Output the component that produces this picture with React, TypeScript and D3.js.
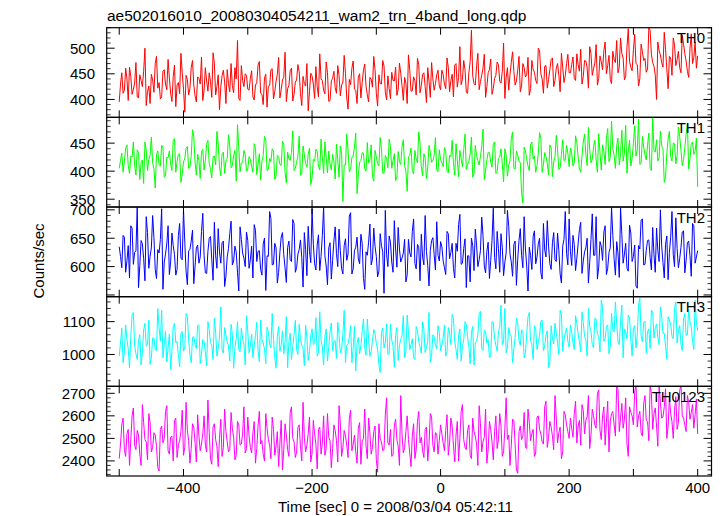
import React from "react";
import * as d3 from "d3";

// ---- data: two interleaved 4-second sample sets (A at -500+4k, B at -498+4k) ----
const T_START = -500;
const T_STEP = 4;

const TH0_A = [
  395, 452, 418, 440, 463, 410, 432, 405, 448, 425, 500, 415, 392, 438, 470, 422, 401, 455, 430, 478, 412, 445, 386, 433, 490, 420, 447, 409, 462, 428, 395, 441, 483, 418, 436, 452, 404, 471, 425, 380, 446, 434, 458, 415, 427, 462, 515, 398, 437, 450, 420,
  441, 405, 428, 467, 412, 390, 449, 426, 458, 401, 435, 482, 419, 443, 396, 427, 461, 410, 438, 454, 388, 431, 470, 415, 446, 402, 425, 489, 437, 411, 452, 398, 441, 423, 466, 407, 434, 450, 381, 429, 475, 418, 444, 403, 457, 426, 395, 439, 484, 412, 448, 430, 465, 399, 421, 453, 436, 408, 471, 427, 443, 392, 458, 417, 437, 480, 413, 449, 425, 462, 404, 440, 431, 457, 419,
  448, 421, 462, 437, 405, 470, 443, 429, 476, 414, 452, 535, 431, 466, 419, 447, 488, 425, 458, 410, 441, 473, 436, 455, 402, 462, 449, 493, 428, 457, 415, 470, 444, 482, 421, 459, 437, 500, 450, 412, 466, 439, 478, 425, 461, 447, 490, 433, 470, 452,
  468, 441, 489, 455, 430, 476, 462, 503, 447, 471, 428, 485, 458, 512, 466, 439, 494, 472, 452, 520, 481, 445, 538, 463, 497, 470, 426, 508, 476, 453, 540, 488, 465, 400, 495, 472, 531, 459, 484, 447, 506, 478, 462, 525, 490, 455, 499, 470, 512, 485,
];
const TH0_B = [
  430, 412, 461, 398, 445, 420, 472, 403, 437, 455, 388, 426, 449, 414, 484, 433, 405, 458, 419, 442, 396, 467, 428, 411, 452, 375, 439, 421, 476, 407, 444, 430, 398, 462, 416, 435, 491, 409, 448, 424, 457, 392, 431, 470, 413, 440, 402, 466, 425, 447,
  418, 456, 399, 433, 474, 410, 442, 385, 427, 460, 415, 449, 403, 438, 492, 421, 456, 397, 434, 468, 411, 445, 426, 378, 451, 430, 464, 405, 440, 418, 473, 396, 436, 455, 412, 447, 428, 486, 403, 439, 461, 420, 392, 450, 433, 469, 409, 443, 424, 458, 387, 431, 476, 414, 446, 402, 437, 463, 420, 451, 398, 432, 487, 416, 444, 409, 468, 427, 452, 394, 435, 472, 418, 448, 426,
  457, 430, 481, 415, 449, 467, 424, 503, 439, 458, 412, 474, 446, 428, 490, 435, 461, 404, 452, 479, 421, 447, 468, 432, 510, 443, 418, 472, 455, 436, 484, 426, 462, 447, 408, 476, 453, 431, 495, 440, 465, 422, 458, 481, 437, 470, 415, 463, 446, 488,
  452, 483, 437, 468, 498, 445, 475, 422, 489, 460, 507, 441, 473, 495, 450, 486, 431, 478, 515, 463, 490, 438, 502, 474, 456, 527, 468, 441, 493, 480, 459, 535, 472, 448, 512, 487, 463, 498, 421, 481, 520, 466, 494, 452, 508, 475, 443, 528, 482, 461,
];

const TH1_A = [
  405, 432, 418, 447, 396, 425, 410, 438, 385, 420, 452, 401, 428, 415, 370, 436, 409, 443, 391, 424, 412, 455, 398, 430, 380, 417, 441, 405, 426, 462, 393, 419, 434, 402, 448, 414, 388, 427, 471, 408, 431, 396, 422, 445, 410, 437, 483, 399, 416, 429, 404,
  421, 398, 440, 412, 384, 428, 455, 403, 417, 436, 392, 425, 410, 448, 379, 422, 433, 401, 416, 463, 395, 429, 407, 441, 388, 418, 435, 402, 424, 452, 397, 413, 430, 386, 420, 445, 346, 411, 438, 404, 427, 468, 393, 419, 432, 400, 415, 447, 382, 426, 409, 440, 396, 423, 457, 405, 431, 389, 417, 443, 410, 364, 428, 401, 437, 415, 450, 392, 424, 406, 434, 418, 460, 399, 421,
  408, 435, 397, 426, 414, 449, 390, 422, 438, 403, 417, 461, 396, 428, 411, 444, 385, 420, 433, 407, 452, 399, 425, 413, 440, 391, 418, 470, 404, 429, 415, 343, 436, 409, 447, 422, 398, 431, 458, 412, 426, 393, 441, 417, 464, 403, 430, 419, 446, 408,
  432, 415, 451, 404, 427, 466, 410, 438, 421, 455, 398, 433, 447, 412, 476, 425, 440, 405, 459, 430, 418, 482, 436, 409, 450, 427, 493, 414, 443, 420, 468, 401, 437, 456, 424, 445, 380, 432, 471, 418, 449, 428, 462, 410, 441, 485, 423, 452, 435, 372,
];
const TH1_B = [
  419, 398, 441, 410, 427, 452, 393, 433, 415, 378, 438, 421, 461, 404, 429, 412, 446, 389, 425, 436, 401, 458, 417, 431, 395, 422, 444, 408, 474, 416, 430, 387, 439, 420, 455, 403, 426, 411, 449, 392, 434, 418, 465, 406, 428, 382, 442, 415, 437, 400,
  426, 408, 449, 394, 431, 417, 462, 401, 423, 440, 385, 428, 412, 453, 398, 434, 419, 472, 405, 427, 393, 445, 414, 430, 376, 421, 439, 409, 457, 396, 424, 436, 402, 418, 448, 389, 432, 411, 466, 399, 425, 443, 360, 416, 433, 404, 451, 420, 391, 437, 414, 460, 397, 428, 406, 444, 419, 383, 435, 412, 456, 400, 426, 441, 395, 422, 470, 408, 431, 387, 446, 416, 429, 402, 438,
  415, 442, 400, 428, 455, 393, 420, 437, 408, 466, 412, 431, 389, 446, 419, 426, 475, 402, 434, 416, 448, 396, 423, 440, 381, 429, 411, 458, 405, 436, 418, 362, 443, 421, 401, 452, 427, 410, 469, 398, 433, 414, 447, 390, 425, 438, 406, 456, 420, 432,
  441, 409, 463, 426, 398, 452, 430, 478, 415, 444, 420, 467, 402, 436, 458, 417, 489, 428, 445, 411, 473, 432, 396, 455, 423, 481, 438, 412, 462, 429, 447, 405, 496, 434, 418, 471, 440, 389, 457, 426, 450, 413, 479, 437, 421, 466, 404, 448, 430, 459,
];

const TH2_A = [
  635, 598, 652, 610, 580, 668, 625, 705, 602, 640, 575, 660, 618, 690, 595, 630, 648, 560, 622, 672, 608, 637, 585, 655, 615, 700, 592, 628, 645, 570, 633, 606, 662, 620, 588, 650, 612, 678, 597, 626, 642, 565, 617, 658, 603, 636, 590, 670, 624, 600, 646,
  612, 580, 664, 627, 595, 640, 558, 618, 685, 604, 633, 590, 652, 621, 572, 645, 609, 676, 598, 630, 616, 660, 584, 627, 702, 605, 638, 593, 655, 619, 568, 642, 611, 670, 600, 628, 587, 649, 622, 695, 596, 634, 614, 657, 579, 626, 643, 603, 668, 618, 592, 637, 553, 621, 654, 608, 681, 599, 631, 615, 648, 585, 624, 662, 606, 639, 575, 617, 690, 602, 629, 651, 594, 620, 644,
  610, 586, 658, 625, 597, 641, 674, 604, 632, 563, 619, 650, 593, 638, 612, 687, 601, 627, 579, 646, 616, 662, 590, 634, 608, 699, 622, 583, 645, 613, 667, 598, 631, 557, 620, 653, 605, 640, 589, 676, 617, 636, 595, 660, 609, 628, 571, 648, 623, 684,
  602, 639, 615, 665, 588, 626, 650, 607, 693, 620, 578, 644, 611, 672, 597, 633, 655, 585, 624, 703, 606, 641, 592, 659, 618, 566, 637, 682, 603, 629, 647, 594, 621, 668, 609, 636, 580, 654, 625, 697, 600, 632, 614, 661, 589, 642, 619, 676, 606, 628,
];
const TH2_B = [
  618, 655, 590, 637, 672, 604, 628, 563, 646, 614, 688, 597, 633, 651, 579, 624, 702, 608, 640, 586, 659, 621, 595, 676, 612, 643, 568, 630, 664, 601, 638, 617, 694, 589, 627, 653, 576, 619, 667, 606, 645, 583, 632, 680, 610, 626, 557, 648, 615, 661,
  597, 636, 674, 609, 628, 585, 650, 619, 697, 603, 641, 571, 626, 660, 598, 634, 612, 683, 590, 622, 647, 564, 630, 671, 607, 639, 594, 656, 618, 705, 601, 633, 578, 645, 623, 666, 596, 637, 611, 689, 587, 628, 652, 605, 641, 560, 620, 675, 613, 636, 582, 658, 626, 699, 600, 643, 590, 631, 669, 608, 624, 573, 648, 617, 684, 596, 635, 657, 603, 627, 566, 646, 621, 679, 610,
  635, 598, 662, 614, 641, 580, 627, 692, 606, 649, 619, 573, 637, 666, 600, 628, 655, 589, 643, 611, 703, 596, 632, 658, 584, 624, 671, 608, 639, 567, 646, 620, 688, 601, 634, 595, 663, 617, 650, 578, 629, 681, 605, 642, 612, 659, 587, 636, 697, 603,
  627, 655, 593, 640, 678, 610, 633, 571, 648, 620, 688, 599, 636, 661, 586, 625, 704, 613, 644, 581, 657, 622, 597, 673, 609, 638, 562, 631, 684, 604, 646, 616, 669, 590, 628, 700, 607, 639, 577, 652, 621, 686, 598, 634, 663, 611, 645, 583, 672, 617,
];

const TH3_A = [
  995, 1080, 1010, 1045, 960, 1120, 1025, 985, 1060, 1005, 1095, 1030, 970, 1050, 1015, 1140, 1040, 990, 1070, 1020, 955, 1085, 1035, 1000, 1065, 1010, 1125, 1045, 975, 1055, 1018, 1090, 1002, 1040, 965, 1075, 1028, 1110, 995, 1050, 1012, 1082, 1038, 980, 1062, 1022, 1100, 1008, 1047, 968, 1070,
  1025, 990, 1058, 1012, 1105, 1035, 972, 1068, 1020, 1045, 958, 1085, 1030, 1002, 1115, 1040, 985, 1060, 1015, 1092, 1028, 965, 1050, 1008, 1078, 1036, 995, 1130, 1022, 1055, 980, 1070, 1012, 1042, 1098, 1005, 1063, 975, 1032, 1088, 1018, 950, 1052, 1026, 1108, 998, 1046, 1010, 1076, 1034, 970, 1066, 1020, 1094, 1003, 1044, 962, 1082, 1028, 1056, 990, 1120, 1015, 1048, 985, 1072, 1024, 1100, 1006, 1040, 976, 1060, 1030, 1088, 1012,
  1050, 995, 1082, 1030, 1110, 1015, 1060, 980, 1045, 1092, 1025, 1068, 968, 1040, 1125, 1018, 1075, 1035, 990, 1100, 1048, 1010, 1085, 1030, 1140, 1020, 1062, 975, 1052, 1095, 1028, 1070, 1005, 1115, 1042, 985, 1078, 1036, 1102, 1012, 1058, 960, 1088, 1032, 1065, 1000, 1120, 1045, 1080, 1022,
  1068, 1015, 1095, 1040, 1130, 1055, 995, 1085, 1030, 1110, 1062, 1008, 1145, 1048, 1090, 1025, 1075, 1160, 1038, 1100, 990, 1070, 1120, 1045, 1082, 1020, 1150, 1058, 1098, 1005, 1078, 1135, 1050, 1092, 1030, 1115, 1065, 985, 1105, 1055, 1140, 1035, 1088, 1012, 1125, 1060, 1100, 1042, 1165, 1072,
];
const TH3_B = [
  1035, 975, 1090, 1018, 1055, 1128, 1002, 1042, 968, 1075, 1025, 1105, 990, 1050, 1012, 1082, 1135, 1030, 978, 1062, 1010, 1095, 1040, 962, 1070, 1022, 1115, 998, 1052, 1030, 1088, 972, 1045, 1008, 1100, 1036, 985, 1068, 1020, 1145, 1004, 1058, 1026, 1092, 958, 1048, 1015, 1080, 1032, 1118,
  1005, 1062, 1028, 1098, 978, 1045, 1016, 1083, 1032, 1125, 992, 1055, 1010, 1072, 1038, 960, 1065, 1024, 1104, 1000, 1048, 1018, 1090, 982, 1058, 1030, 1112, 1006, 1044, 968, 1078, 1022, 1096, 1040, 988, 1060, 1014, 1135, 1028, 1052, 975, 1086, 1034, 1002, 1070, 1020, 1108, 994, 1042, 1064, 1016, 945, 1080, 1036, 1000, 1092, 1026, 1058, 982, 1046, 1118, 1010, 1068, 1030, 990, 1085, 1040, 1004, 1076, 1022, 1128, 998, 1054, 1018, 1066,
  1030, 1090, 1008, 1065, 1122, 1040, 985, 1078, 1025, 1100, 1052, 972, 1085, 1035, 1060, 1132, 1012, 1070, 1045, 995, 1098, 1028, 1068, 1150, 1038, 1005, 1082, 1055, 1018, 1110, 1042, 1075, 990, 1062, 1128, 1032, 1088, 1015, 1058, 1105, 1026, 1072, 978, 1050, 1095, 1038, 1135, 1010, 1066, 1040,
  1090, 1035, 1118, 1062, 1008, 1098, 1045, 1140, 1072, 1020, 1108, 1055, 1165, 1040, 1085, 1002, 1125, 1068, 1095, 1030, 1150, 1078, 1048, 1112, 995, 1088, 1060, 1172, 1038, 1102, 1070, 1018, 1130, 1082, 1052, 1145, 1065, 1025, 1115, 1092, 1048, 1160, 1075, 1030, 1108, 1058, 1138, 1085, 1015, 1098,
];

const TH0123_A = [
  2410, 2560, 2450, 2520, 2380, 2600, 2470, 2535, 2430, 2650, 2495, 2405, 2570, 2460, 2515, 2370, 2540, 2480, 2620, 2445, 2505, 2400, 2590, 2470, 2530, 2425, 2660, 2490, 2455, 2550, 2395, 2510, 2475, 2600, 2440, 2525, 2385, 2565, 2465, 2500, 2420, 2630, 2485, 2450, 2545, 2405, 2575, 2470, 2520, 2435, 2595,
  2460, 2525, 2390, 2555, 2475, 2430, 2610, 2495, 2410, 2540, 2465, 2375, 2580, 2450, 2515, 2420, 2640, 2485, 2440, 2560, 2400, 2505, 2470, 2595, 2435, 2520, 2365, 2550, 2480, 2425, 2610, 2490, 2455, 2535, 2395, 2570, 2460, 2510, 2415, 2625, 2475, 2440, 2545, 2385, 2500, 2465, 2590, 2430, 2530, 2405, 2565, 2485, 2450, 2680, 2470, 2420, 2555, 2495, 2380, 2520, 2460, 2600, 2435, 2515, 2410, 2575, 2480, 2445, 2540, 2400, 2610, 2470, 2525, 2430, 2560,
  2480, 2535, 2425, 2590, 2470, 2515, 2400, 2620, 2495, 2450, 2560, 2410, 2530, 2475, 2645, 2440, 2505, 2390, 2575, 2485, 2530, 2455, 2610, 2420, 2545, 2495, 2380, 2585, 2470, 2345, 2555, 2510, 2460, 2630, 2490, 2540, 2435, 2600, 2520, 2475, 2665, 2505, 2550, 2450, 2590, 2525, 2410, 2620, 2560, 2500,
  2545, 2610, 2480, 2580, 2650, 2520, 2595, 2455, 2630, 2560, 2700, 2535, 2600, 2470, 2665, 2575, 2620, 2510, 2720, 2590, 2545, 2680, 2420, 2615, 2560, 2740, 2600, 2525, 2655, 2580, 2490, 2700, 2610, 2555, 2735, 2590, 2640, 2500, 2680, 2575, 2625, 2540, 2710, 2600, 2560, 2690, 2585, 2650, 2605, 2520,
];
const TH0123_B = [
  2475, 2590, 2420, 2540, 2495, 2635, 2450, 2515, 2380, 2570, 2485, 2610, 2440, 2525, 2465, 2355, 2555, 2500, 2645, 2430, 2510, 2580, 2415, 2490, 2625, 2460, 2535, 2390, 2565, 2480, 2605, 2445, 2520, 2470, 2670, 2410, 2550, 2495, 2375, 2585, 2460, 2530, 2440, 2615, 2505, 2425, 2560, 2475, 2640, 2455,
  2510, 2435, 2575, 2455, 2620, 2490, 2400, 2545, 2470, 2595, 2425, 2530, 2480, 2360, 2565, 2450, 2615, 2500, 2415, 2550, 2465, 2660, 2440, 2520, 2395, 2580, 2475, 2540, 2430, 2600, 2455, 2505, 2370, 2560, 2490, 2645, 2420, 2535, 2470, 2590, 2445, 2515, 2390, 2570, 2485, 2630, 2410, 2525, 2460, 2555, 2350, 2500, 2445, 2605, 2480, 2540, 2425, 2585, 2465, 2690, 2435, 2530, 2495, 2375, 2565, 2450, 2620, 2505, 2415, 2550, 2475, 2595, 2440, 2520, 2490,
  2520, 2445, 2605, 2480, 2555, 2395, 2575, 2500, 2650, 2460, 2535, 2425, 2590, 2510, 2380, 2565, 2485, 2630, 2450, 2540, 2405, 2600, 2495, 2555, 2440, 2680, 2515, 2470, 2580, 2360, 2530, 2495, 2615, 2455, 2570, 2520, 2420, 2595, 2540, 2485, 2640, 2460, 2575, 2510, 2690, 2480, 2550, 2440, 2605, 2530,
  2590, 2505, 2665, 2555, 2470, 2625, 2580, 2690, 2515, 2600, 2545, 2715, 2495, 2640, 2570, 2440, 2610, 2560, 2730, 2530, 2655, 2585, 2475, 2640, 2600, 2705, 2550, 2620, 2510, 2690, 2575, 2735, 2540, 2635, 2465, 2660, 2595, 2720, 2555, 2610, 2500, 2685, 2570, 2740, 2590, 2530, 2660, 2615, 2545, 2675,
];

const SERIES_A = [TH0_A, TH1_A, TH2_A, TH3_A, TH0123_A];
const SERIES_B = [TH0_B, TH1_B, TH2_B, TH3_B, TH0123_B];
const PANEL_NAMES = ["TH0", "TH1", "TH2", "TH3", "TH0123"];
const PANEL_COLORS = ["#ff0000", "#00ff00", "#0000ff", "#00ffff", "#ff00ff"];
const Y_DOMAINS = [
  [365, 540],
  [336, 496],
  [547, 705],
  [903, 1176],
  [2333, 2731],
];
const Y_MAJOR = [
  [400, 450, 500],
  [350, 400, 450],
  [550, 600, 650, 700],
  [1000, 1100],
  [2400, 2500, 2600, 2700],
];
const Y_LABELS = [
  [400, 450, 500],
  [350, 400, 450],
  [600, 650, 700],
  [1000, 1100],
  [2400, 2500, 2600, 2700],
];
const Y_MINOR_STEP = [10, 10, 10, 20, 20];

const X_DOMAIN = [-519.5, 421.5];
const X_MAJOR = [-500, -400, -300, -200, -100, 0, 100, 200, 300, 400];
const X_LABELS = [-400, -200, 0, 200, 400];

const TITLE = "ae502016010_20080304054211_wam2_trn_4band_long.qdp";
const X_TITLE = "Time [sec] 0 = 2008/03/04 05:42:11";
const Y_TITLE = "Counts/sec";

// ---- layout ----
const W = 723;
const H = 516;
const LEFT = 106.7;
const RIGHT = 711.5;
const TOP = 27.7;
const BOTTOM = 476;
const PANEL_H = (BOTTOM - TOP) / 5;
const FONT = "'Liberation Sans', Arial, Helvetica, sans-serif";

const fmt = (v: number) => String(v).replace("-", "\u2212");

// merge the two sample sets into one time-ordered list of [t, value]
function mergeSamples(a: number[], b: number[]): [number, number][] {
  const out: [number, number][] = [];
  a.forEach((v, i) => {
    out.push([T_START + i * T_STEP, v]);
    if (i < b.length) out.push([T_START + i * T_STEP + T_STEP / 2, b[i]]);
  });
  return out;
}

export default function App() {
  const x = d3.scaleLinear().domain(X_DOMAIN).range([LEFT, RIGHT]);

  return (
    <svg
      width={W}
      height={H}
      viewBox={`0 0 ${W} ${H}`}
      style={{ position: "absolute", left: 0, top: 0, background: "#fff" }}
      fontFamily={FONT}
    >
      <defs>
        {SERIES_A.map((_, i) => (
          <clipPath id={`clip${i}`} key={i}>
            <rect x={LEFT} y={TOP + i * PANEL_H} width={RIGHT - LEFT} height={PANEL_H} />
          </clipPath>
        ))}
      </defs>

      {SERIES_A.map((valsA, i) => {
        const data = mergeSamples(valsA, SERIES_B[i]);
        const top = TOP + i * PANEL_H;
        const bot = top + PANEL_H;
        const [lo, hi] = Y_DOMAINS[i];
        const y = d3.scaleLinear().domain([lo, hi]).range([bot, top]);
        const line = d3
          .line<[number, number]>()
          .x((d) => x(d[0]))
          .y((d) => y(d[1]));
        const step = Y_MINOR_STEP[i];
        const minors = d3
          .range(Math.ceil(lo / step) * step, hi + 0.001, step)
          .filter((v) => !Y_MAJOR[i].includes(v));
        return (
          <g key={i}>
            <path
              d={line(data) || ""}
              fill="none"
              stroke={PANEL_COLORS[i]}
              strokeWidth={1}
              clipPath={`url(#clip${i})`}
            />
            <rect x={LEFT} y={top} width={RIGHT - LEFT} height={PANEL_H} fill="none" stroke="#000" strokeWidth={1.2} />
            {Y_MAJOR[i].map((v) => (
              <g key={`M${v}`} stroke="#000" strokeWidth={1}>
                <line x1={LEFT} x2={LEFT + 8} y1={y(v)} y2={y(v)} />
                <line x1={RIGHT - 8} x2={RIGHT} y1={y(v)} y2={y(v)} />
              </g>
            ))}
            {minors.map((v) => (
              <g key={`m${v}`} stroke="#000" strokeWidth={0.8}>
                <line x1={LEFT} x2={LEFT + 4} y1={y(v)} y2={y(v)} />
                <line x1={RIGHT - 4} x2={RIGHT} y1={y(v)} y2={y(v)} />
              </g>
            ))}
            {X_MAJOR.map((v) => (
              <g key={`x${v}`} stroke="#000" strokeWidth={1}>
                <line x1={x(v)} x2={x(v)} y1={top} y2={top + 7} />
                <line x1={x(v)} x2={x(v)} y1={bot - 7} y2={bot} />
              </g>
            ))}
            {Y_LABELS[i].map((v) => (
              <text key={`l${v}`} x={95} y={y(v) + 5.4} textAnchor="end" fontSize={15} fill="#000">
                {fmt(v)}
              </text>
            ))}
            <text x={705} y={top + 15.6} textAnchor="end" fontSize={15} fill="#000">
              {PANEL_NAMES[i]}
            </text>
          </g>
        );
      })}

      {X_LABELS.map((v) => (
        <text key={v} x={x(v)} y={493.3} textAnchor="middle" fontSize={15} fill="#000">
          {fmt(v)}
        </text>
      ))}

      <text x={107} y={20.6} fontSize={15.5} fill="#000">
        {TITLE}
      </text>
      <text x={278} y={511.5} fontSize={15} fill="#000">
        {X_TITLE}
      </text>
      <text transform={`translate(44,261) rotate(-90)`} textAnchor="middle" fontSize={15} fill="#000">
        {Y_TITLE}
      </text>
    </svg>
  );
}
